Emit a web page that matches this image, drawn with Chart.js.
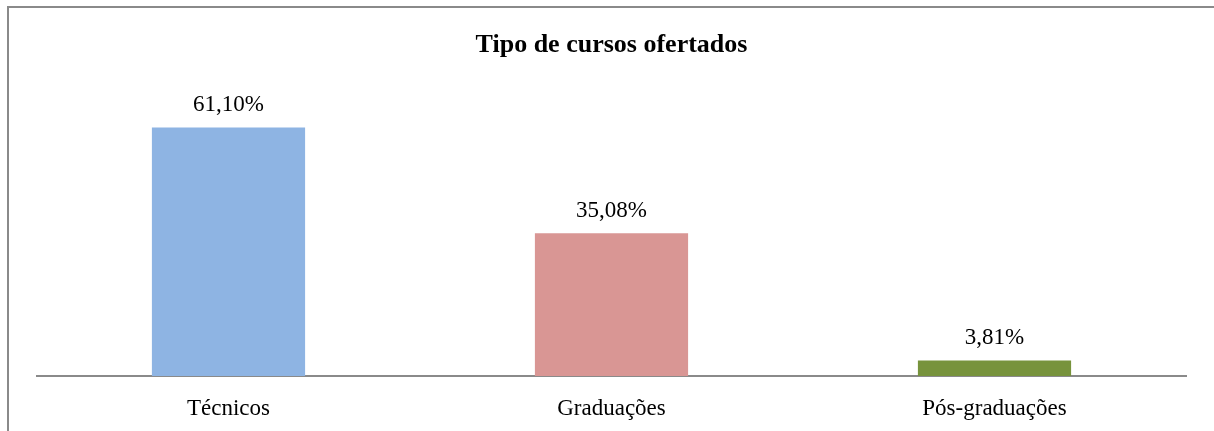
<!DOCTYPE html>
<html>
<head>
<meta charset="utf-8">
<script src="https://cdn.jsdelivr.net/npm/chart.js@4"></script>
<style>
  html, body { margin: 0; padding: 0; background: #fff; }
  #wrap { width: 1214px; height: 431px; position: relative; }
</style>
</head>
<body>
<div id="wrap"><canvas id="chart"></canvas></div>
<script>
const categories = ["Técnicos", "Graduações", "Pós-graduações"];
const percentages = [61.10, 35.08, 3.81];
const valueLabels = ["61,10%", "35,08%", "3,81%"];
const barColors = ['#8EB4E3', '#D99694', '#77933C'];

// frame lines (left + top) like the cropped original
const framePlugin = {
    id: 'frame',
    beforeDraw(chart) {
        const ctx = chart.ctx;
        ctx.save();
        ctx.strokeStyle = '#8a8a8a';
        ctx.lineWidth = 2;
        ctx.beginPath();
        ctx.moveTo(8, chart.height);
        ctx.lineTo(8, 7);
        ctx.lineTo(chart.width, 7);
        ctx.stroke();
        ctx.restore();
    }
};

// value labels above bars
const valueLabelPlugin = {
    id: 'valueLabels',
    afterDatasetsDraw(chart) {
        const ctx = chart.ctx;
        const meta = chart.getDatasetMeta(0);
        ctx.save();
        ctx.font = '23px "Liberation Serif", "Times New Roman", serif';
        ctx.fillStyle = '#000';
        ctx.textAlign = 'center';
        ctx.textBaseline = 'alphabetic';
        meta.data.forEach((bar, i) => {
            ctx.fillText(valueLabels[i], bar.x, bar.y - 16);
        });
        ctx.restore();
    }
};

new Chart(document.getElementById('chart'), {
    type: 'bar',
    data: {
        labels: categories,
        datasets: [{
            data: percentages,
            backgroundColor: barColors,
            barPercentage: 0.4,
            categoryPercentage: 1.0
        }]
    },
    options: {
        responsive: true,
        maintainAspectRatio: false,
        animation: false,
        layout: { padding: { left: 37, right: 28, top: 0, bottom: 0 } },
        plugins: {
            legend: { display: false },
            tooltip: { enabled: false },
            title: {
                display: true,
                text: 'Tipo de cursos ofertados',
                color: '#000',
                font: { family: '"Liberation Serif", "Times New Roman", serif', size: 26, weight: 'bold' },
                padding: { top: 30, bottom: 30 }
            }
        },
        scales: {
            x: {
                grid: { display: false, drawTicks: false },
                border: { color: '#8a8a8a', width: 2 },
                ticks: {
                    color: '#000',
                    font: { family: '"Liberation Serif", "Times New Roman", serif', size: 23 },
                    padding: 19
                },
                afterFit: s => { s.height = 55; }
            },
            y: {
                display: false,
                min: 0,
                max: 70
            }
        }
    },
    plugins: [framePlugin, valueLabelPlugin]
});
</script>
</body>
</html>
